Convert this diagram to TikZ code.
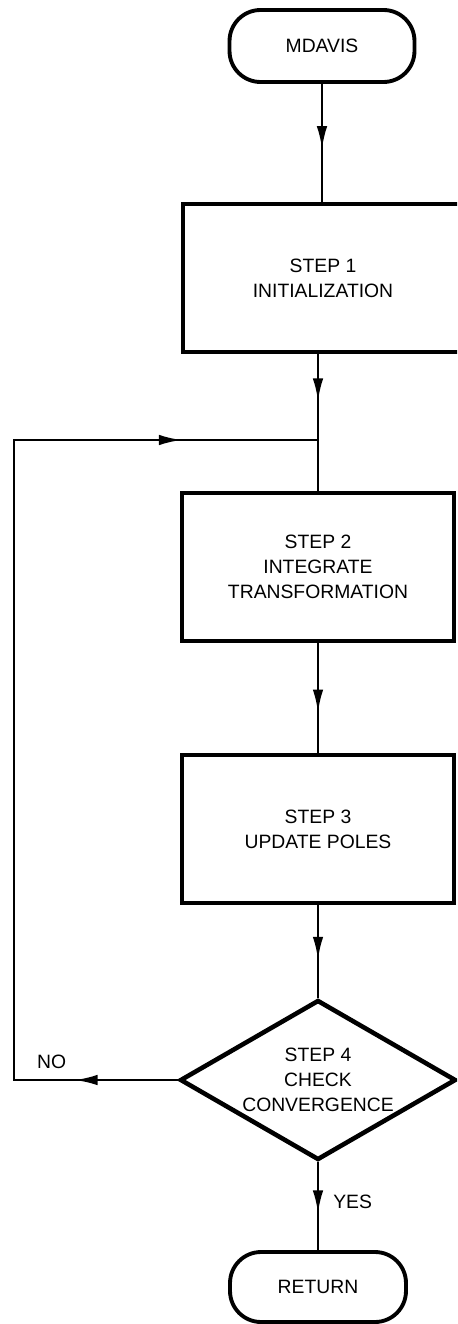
\documentclass[tikz,border=0pt]{standalone}
\usepackage{fontspec}
\setmainfont{Liberation Sans}
\usetikzlibrary{arrows.meta,shapes.geometric,decorations.markings}
\tikzset{
  flowtip/.tip={Latex[length=13pt,width=6pt]},
  box/.style={draw=black,line width=2pt,minimum width=5.44cm,minimum height=2.96cm,align=center,inner sep=2pt,font=\fontsize{11}{14.2}\selectfont},
  term/.style={box,rounded corners=0.62cm,minimum width=3.7cm,minimum height=1.44cm,line width=2.2pt},
  dec/.style={box,diamond,aspect=1.72,line width=2.6pt,minimum width=5.52cm,minimum height=3.2cm,inner sep=0pt},
  flow/.style={line width=1.4pt},
  midarr/.style={flow,postaction={decorate},decoration={markings,mark=at position #1 with {\arrow{flowtip}}}},
  looparr/.style={flow,postaction={decorate},decoration={markings,mark=at position 0.093 with {\arrow{flowtip}},mark=at position 0.877 with {\arrow{flowtip}}}},
  lab/.style={font=\fontsize{11}{14.2}\selectfont,inner sep=0pt}
}

\begin{document}
\begin{tikzpicture}[x=0.02cm,y=-0.02cm]
\useasboundingbox (0,0) rectangle (457,1324);
\clip (0,0) rectangle (457,1324);
% ---------------- nodes ----------------
\node[term] (mdavis) at (322,46) {MDAVIS};
\node[box,minimum width=5.6cm] (step1) at (323,278) {STEP 1\\INITIALIZATION};
\coordinate (join) at (318,440);
\node[box] (step2) at (318,567) {STEP 2\\INTEGRATE\\TRANSFORMATION};
\node[box] (step3) at (318,829) {STEP 3\\UPDATE POLES};
\node[dec] (check) at (318,1080) {STEP 4\\CHECK\\CONVERGENCE};
\node[term,minimum width=3.52cm,minimum height=1.4cm] (ret) at (318,1287) {RETURN};
\coordinate (nob) at (14,1080);
\coordinate (notop) at (14,440);
% ---------------- connectors ----------------
\draw[midarr=0.55] (mdavis.south) -- (mdavis.south |- step1.north);
\draw[midarr=0.55] (step1.south -| join) -- (join);
\draw[flow] (join) -- (step2.north);
\draw[midarr=0.63] (step2.south) -- (step3.north);
\draw[midarr=0.59] (step3.south) -- (check.north);
\draw[midarr=0.58] (check.south) -- node[lab,right=8pt,pos=0.45] {YES} (ret.north);
% loop back
\draw[looparr] (check.west) -- node[lab,pos=0.77,above=5.5pt] {NO} (nob) -- (notop) -- (join);
\end{tikzpicture}
\end{document}
